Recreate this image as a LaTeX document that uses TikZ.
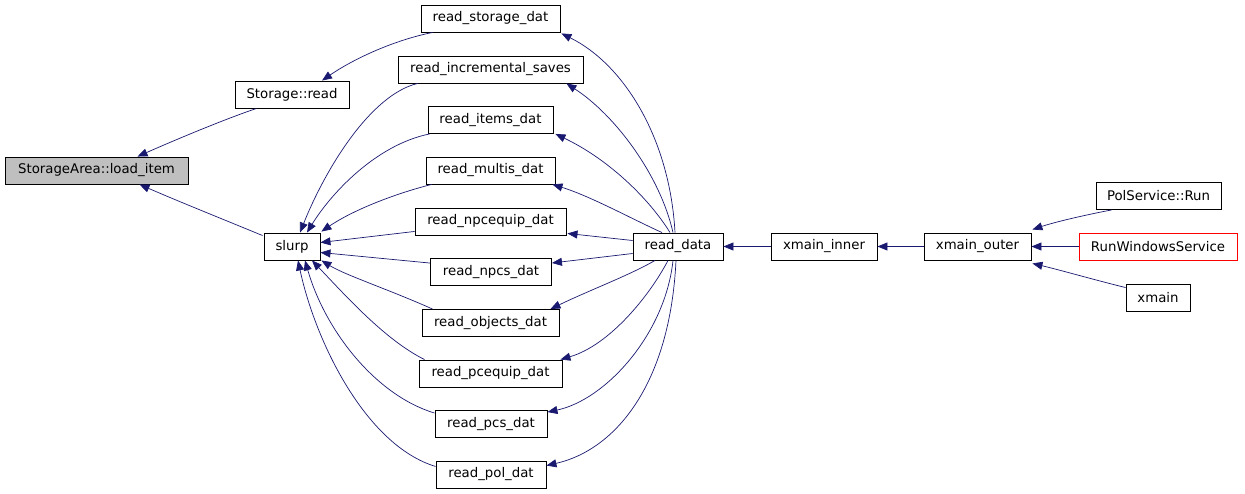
\documentclass[tikz,border=0pt]{standalone}
\usepackage{fontspec}
\setmainfont{DejaVu Sans}
\usetikzlibrary{arrows.meta}
\definecolor{edgeblue}{HTML}{191970}
\definecolor{boxgray}{HTML}{BFBFBF}
\tikzset{
  fn/.style={draw=black, line width=0.9pt, fill=white, inner sep=0pt, font=\fontsize{13.3}{14}\selectfont, text=black},
  edge/.style={draw=edgeblue, line width=0.7pt, -{Triangle[length=10pt,width=8pt]}, edgeblue},
}
\newcommand{\fnode}[6][]{\node[fn,#1, minimum width=#4pt, minimum height=#5pt] (#2) at (#3) {#6};}
\begin{document}
\begin{tikzpicture}[x=1pt,y=-1pt]
\useasboundingbox (0,0) rectangle (1245,493);
% nodes
\fnode[fill=boxgray]{li}{96.5,170.5}{183}{27}{StorageArea::load\_item}
\fnode{sr}{292,94.5}{114}{27}{Storage::read}
\fnode{slurp}{292,246.5}{56}{27}{slurp}
\fnode{rsd}{490.5,18.5}{139}{27}{read\_storage\_dat}
\fnode{ris}{490.5,69.5}{185}{27}{read\_incremental\_saves}
\fnode{rid}{490.5,120}{125}{27}{read\_items\_dat}
\fnode{rmd}{490.5,170.5}{129}{27}{read\_multis\_dat}
\fnode{rned}{490.5,221.5}{151}{27}{read\_npcequip\_dat}
\fnode{rnd}{491,272}{121}{27}{read\_npcs\_dat}
\fnode{rod}{490.5,323}{137}{27}{read\_objects\_dat}
\fnode{rped}{490.5,373.5}{143}{27}{read\_pcequip\_dat}
\fnode{rpd}{491,424}{112}{27}{read\_pcs\_dat}
\fnode{rpol}{491,474.5}{110}{27}{read\_pol\_dat}
\fnode{rdata}{678,246.5}{90}{27}{read\_data}
\fnode{xin}{824,246.5}{106}{27}{xmain\_inner}
\fnode{xout}{977.5,246.5}{107}{27}{xmain\_outer}
\fnode{psr}{1158.5,196}{125}{27}{PolService::Run}
\fnode[draw=red]{rws}{1158,246.5}{158}{27}{RunWindowsService}
\fnode{xm}{1158,297.5}{64}{27}{xmain}
% edges into load_item / Storage::read
\draw[edge] ([xshift=22pt]sr.south west) .. controls (225,119) and (175,140) .. ([xshift=41pt]li.north);
\draw[edge] ([xshift=-1pt,yshift=-3pt]slurp.north west) .. controls (220,218) and (180,202) .. ([xshift=43pt]li.south);
\draw[edge] ([xshift=12pt]rsd.south west) .. controls (395,40) and (355,58) .. ([xshift=30pt]sr.north);
% edges into slurp
\draw[edge] ([xshift=20pt]ris.south west) .. controls (370,95) and (325,170) .. ([xshift=8pt]slurp.north);
\draw[edge] ([xshift=2pt]rid.south west) .. controls (375,145) and (330,195) .. ([xshift=15pt]slurp.north);
\draw[edge] ([xshift=6pt]rmd.south west) .. controls (390,195) and (350,212) .. ([xshift=1pt,yshift=1pt]slurp.north east);
\draw[edge] ([yshift=4pt]rned.south west) -- ([yshift=4pt]slurp.east);
\draw[edge] ([yshift=-5pt]rnd.north west) -- ([yshift=-6pt]slurp.east);
\draw[edge] ([xshift=11pt]rod.north west) .. controls (390,290) and (345,275) .. ([xshift=1pt]slurp.south east);
\draw[edge] ([xshift=6pt]rped.north west) .. controls (385,340) and (345,295) .. ([xshift=20pt]slurp.south);
\draw[edge] ([yshift=-3pt]rpd.north west) .. controls (375,395) and (325,330) .. ([xshift=13pt]slurp.south);
\draw[edge] ([yshift=22pt]rpol.south west) .. controls (365,445) and (315,340) .. ([xshift=6pt]slurp.south);
% edges from read_data
\draw[edge] ([xshift=-3pt]rdata.north) .. controls (670,140) and (625,65) .. ([xshift=1pt,yshift=-1pt]rsd.south east);
\draw[edge] ([xshift=-5pt]rdata.north) .. controls (660,175) and (615,115) .. ([xshift=-17pt]ris.south east);
\draw[edge] ([xshift=-8pt]rdata.north) .. controls (650,200) and (610,160) .. ([xshift=2pt]rid.south east);
\draw[edge] ([xshift=-16pt]rdata.north) .. controls (630,218) and (590,196) .. ([xshift=-3pt]rmd.south east);
\draw[edge] ([yshift=6pt]rdata.west) -- ([xshift=1pt,yshift=2pt]rned.south east);
\draw[edge] ([yshift=-7pt]rdata.west) -- ([yshift=9pt]rnd.east);
\draw[edge] ([xshift=-23pt]rdata.south) .. controls (630,275) and (590,290) .. ([xshift=-9pt]rod.north east);
\draw[edge] ([xshift=-10pt]rdata.south) .. controls (650,295) and (610,345) .. ([xshift=-2pt]rped.north east);
\draw[edge] ([xshift=-5pt]rdata.south) .. controls (665,335) and (605,400) .. ([yshift=-2pt]rpd.north east);
\draw[edge] ([xshift=-2pt]rdata.south) .. controls (670,385) and (615,450) .. ([yshift=-5pt]rpol.north east);
% chain
\draw[edge] (xin) -- (rdata);
\draw[edge] (xout) -- (xin);
\draw[edge] ([xshift=16pt]psr.south west) .. controls (1085,215) and (1055,222) .. ([xshift=1pt,yshift=3pt]xout.north east);
\draw[edge] (rws) -- (xout);
\draw[edge] ([yshift=-4pt]xm.north west) .. controls (1095,280) and (1060,270) .. ([xshift=1pt,yshift=-3pt]xout.south east);
\end{tikzpicture}
\end{document}
